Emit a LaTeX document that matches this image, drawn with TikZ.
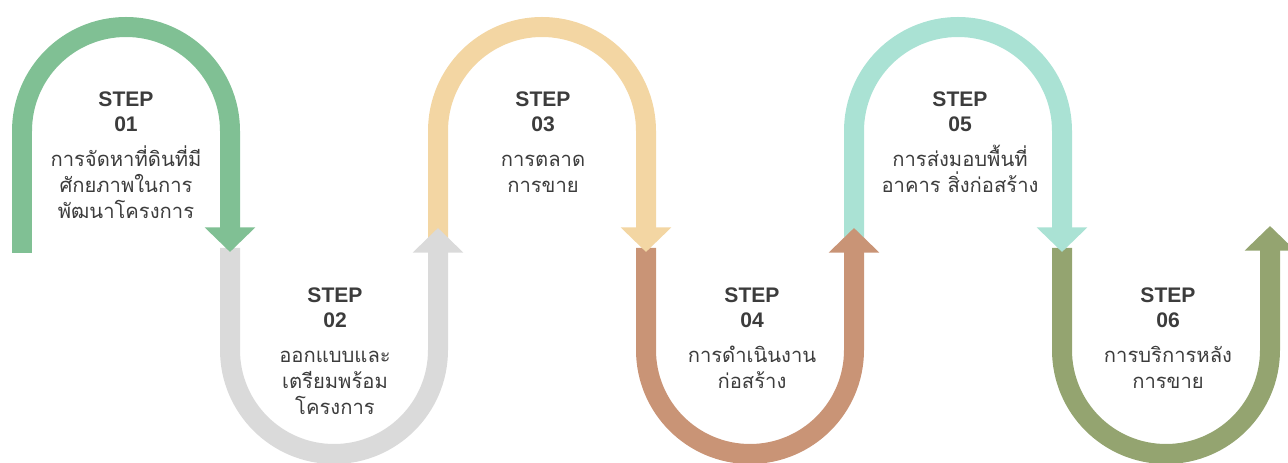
\documentclass[tikz,border=0pt]{standalone}
\usepackage{fontspec}
\setmainfont{Liberation Sans}
\newfontfamily\thaifont[Script=Thai]{Loma}
\usepackage{xcolor}
\usetikzlibrary{arrows.meta, positioning}
\definecolor{stepgreen}{RGB}{128, 192, 148}
\definecolor{stepgray}{RGB}{218, 218, 218}
\definecolor{steptan}{RGB}{243, 214, 163}
\definecolor{stepbrown}{RGB}{201, 148, 118}
\definecolor{stepmint}{RGB}{170, 226, 212}
\definecolor{stepolive}{RGB}{148, 164, 112}
\definecolor{textdark}{RGB}{60, 60, 60}
\newcommand{\thline}[1]{{\thaifont\fontsize{11.5}{14.7}\selectfont #1}}

\begin{document}
\begin{tikzpicture}[
    x=0.02cm, y=0.02cm,
    band/.style={
        line width=0.4cm,
        -{Triangle[length=14pt, width=28pt]}
    },
    stepnode/.style={
        anchor=north,
        inner sep=0pt,
        align=center,
        text=textdark,
        font=\fontsize{12}{14.7}\selectfont
    }
]
    \useasboundingbox (0, 0) rectangle (1288, 463);

    % Arcs (last one first, so each arrow head lies on the next arc)
    \draw[band, stepolive] (1062, 215) -- (1062, 113) arc[start angle=180, end angle=360, radius=104] -- (1270, 237);
    \draw[band, stepmint] (854, 222) -- (854, 332) arc[start angle=180, end angle=0, radius=104] -- (1062, 211);
    \draw[band, stepbrown] (646, 215) -- (646, 113) arc[start angle=180, end angle=360, radius=104] -- (854, 235);
    \draw[band, steptan] (438, 222) -- (438, 332) arc[start angle=180, end angle=0, radius=104] -- (646, 211);
    \draw[band, stepgray] (230, 215) -- (230, 113) arc[start angle=180, end angle=360, radius=104] -- (438, 235);
    \draw[band, stepgreen] (22, 210) -- (22, 332) arc[start angle=180, end angle=0, radius=104] -- (230, 211);

    % Steps
    \node[stepnode] (s1) at (126, 372) {\textbf{STEP}\\\textbf{01}\\[5pt]\thline{การจัดหาที่ดินที่มี}\\\thline{ศักยภาพในการ}\\\thline{พัฒนาโครงการ}};
    \node[stepnode] (s2) at (335, 176) {\textbf{STEP}\\\textbf{02}\\[5pt]\thline{ออกแบบและ}\\\thline{เตรียมพร้อม}\\\thline{โครงการ}};
    \node[stepnode] (s3) at (543, 372) {\textbf{STEP}\\\textbf{03}\\[5pt]\thline{การตลาด}\\\thline{การขาย}};
    \node[stepnode] (s4) at (752, 176) {\textbf{STEP}\\\textbf{04}\\[5pt]\thline{การดำเนินงาน}\\\thline{ก่อสร้าง}};
    \node[stepnode] (s5) at (960, 372) {\textbf{STEP}\\\textbf{05}\\[5pt]\thline{การส่งมอบพื้นที่}\\\thline{อาคาร สิ่งก่อสร้าง}};
    \node[stepnode] (s6) at (1168, 176) {\textbf{STEP}\\\textbf{06}\\[5pt]\thline{การบริการหลัง}\\\thline{การขาย}};
\end{tikzpicture}
\end{document}
